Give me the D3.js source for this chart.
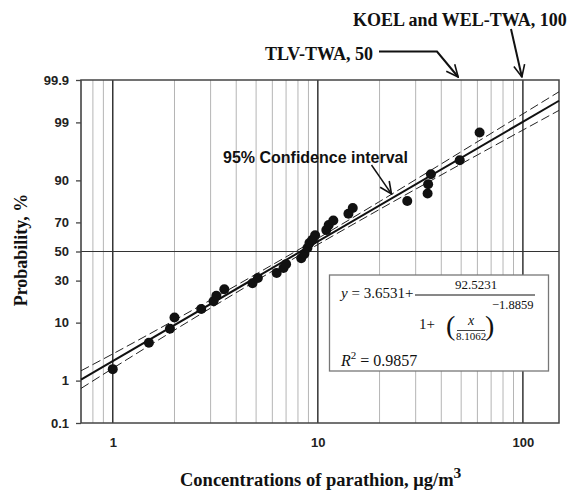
<!DOCTYPE html>
<html>
<head>
<meta charset="utf-8">
<script src="https://cdn.jsdelivr.net/npm/d3@7"></script>
<style>
  body { margin: 0; background: #fff; }
  .serif { font-family: "Liberation Serif", "Times New Roman", serif; }
  .sans { font-family: "Liberation Sans", Arial, sans-serif; }
</style>
</head>
<body>
<svg id="drawing-area"></svg>
<script>
// measured concentrations (ug/m3) and their plotting probabilities (%)
var conc = [1.0, 1.5, 1.9, 2.0, 2.7, 3.1, 3.2, 3.5, 4.8, 5.1,
            6.3, 6.8, 7.0, 8.3, 8.6, 8.9, 9.1, 9.4, 9.7, 11.0,
            11.3, 11.9, 14.1, 14.8, 27.3, 34.3, 34.5, 35.6, 49.2, 61.5];
var prob = [1.7, 5.0, 8.2, 11.7, 15.0, 18.5, 21.2, 24.8, 28.4, 31.7,
            35.0, 38.3, 41.0, 45.2, 48.3, 52.5, 56.0, 58.3, 61.5, 65.0,
            68.3, 71.2, 75.2, 78.3, 81.9, 85.2, 88.7, 91.8, 95.0, 98.4];

// fitted line (read at the plot edges)
var fitX = [0.7, 150];
var fitP = [1.05, 99.67];

// 95% confidence band
var bandX = [0.7, 1, 2, 5, 10, 20, 50, 150];
var bandUpper = [1.58, 3.25, 10.8, 34.2, 59.3, 81.6, 96.39, 99.80];
var bandLower = [0.68, 1.76, 7.84, 29.9, 55.0, 77.6, 94.27, 99.45];

var yTicks = [0.1, 1, 10, 30, 50, 70, 90, 99, 99.9];
var yTickLabels = ["0.1", "1", "10", "30", "50", "70", "90", "99", "99.9"];
var xTicks = [1, 10, 100];

var width = 581, height = 490;
var plotL = 81, plotR = 559, plotT = 80, plotB = 423;

// inverse normal cdf (Acklam)
function probit(p) {
    var a = [-3.969683028665376e+01, 2.209460984245205e+02, -2.759285104469687e+02, 1.383577518672690e+02, -3.066479806614716e+01, 2.506628277459239e+00];
    var b = [-5.447609879822406e+01, 1.615858368580409e+02, -1.556989798598866e+02, 6.680131188771972e+01, -1.328068155288572e+01];
    var c = [-7.784894002430293e-03, -3.223964580411365e-01, -2.400758277161838e+00, -2.549732539343734e+00, 4.374664141464968e+00, 2.938163982698783e+00];
    var d = [7.784695709041462e-03, 3.224671290700398e-01, 2.445134137142996e+00, 3.754408661907416e+00];
    var pl = 0.02425, q, r;
    if (p < pl) {
        q = Math.sqrt(-2 * Math.log(p));
        return (((((c[0]*q+c[1])*q+c[2])*q+c[3])*q+c[4])*q+c[5]) / ((((d[0]*q+d[1])*q+d[2])*q+d[3])*q+1);
    }
    if (p > 1 - pl) {
        q = Math.sqrt(-2 * Math.log(1 - p));
        return -(((((c[0]*q+c[1])*q+c[2])*q+c[3])*q+c[4])*q+c[5]) / ((((d[0]*q+d[1])*q+d[2])*q+d[3])*q+1);
    }
    q = p - 0.5; r = q * q;
    return (((((a[0]*r+a[1])*r+a[2])*r+a[3])*r+a[4])*r+a[5])*q / (((((b[0]*r+b[1])*r+b[2])*r+b[3])*r+b[4])*r+1);
}

var xScale = d3.scaleLog().domain([0.7, 150]).range([plotL, plotR]);
var zScale = d3.scaleLinear().domain([probit(0.001), probit(0.999)]).range([plotB, plotT]);
function yPos(p) { return zScale(probit(p / 100)); }

var svg = d3.select("#drawing-area").attr("width", width).attr("height", height);

var defs = svg.append("defs");
defs.append("marker")
    .attr("id", "vhead")
    .attr("viewBox", "0 0 14 14")
    .attr("refX", 13).attr("refY", 7)
    .attr("markerWidth", 14).attr("markerHeight", 14)
    .attr("markerUnits", "userSpaceOnUse")
    .attr("orient", "auto")
  .append("path")
    .attr("d", "M1,1.5 L13,7 L1,12.5")
    .attr("fill", "none").attr("stroke", "#111").attr("stroke-width", 1.6);

// vertical grid
var minor = [];
[0.1, 1, 10, 100].forEach(function(dec) {
    for (var k = 2; k <= 9; k++) {
        var v = k * dec;
        if (v > 0.7 && v < 150) minor.push(v);
    }
});
svg.selectAll(".minor").data(minor).enter().append("line")
    .attr("x1", function(d) { return xScale(d); }).attr("x2", function(d) { return xScale(d); })
    .attr("y1", plotT).attr("y2", plotB)
    .attr("stroke", "#b5b5b5").attr("stroke-width", 1);
svg.selectAll(".major").data(xTicks).enter().append("line")
    .attr("x1", function(d) { return xScale(d); }).attr("x2", function(d) { return xScale(d); })
    .attr("y1", plotT).attr("y2", plotB)
    .attr("stroke", "#333").attr("stroke-width", 1.5);
svg.append("line")
    .attr("x1", plotL).attr("x2", plotR)
    .attr("y1", yPos(50)).attr("y2", yPos(50))
    .attr("stroke", "#333").attr("stroke-width", 1);

// frame
svg.append("rect")
    .attr("x", plotL).attr("y", plotT).attr("width", plotR - plotL).attr("height", plotB - plotT)
    .attr("fill", "none").attr("stroke", "#444").attr("stroke-width", 1.5);

// axes
var yAxis = d3.axisLeft(zScale)
    .tickValues(yTicks.map(function(p) { return probit(p / 100); }))
    .tickFormat(function(d, i) { return yTickLabels[i]; })
    .tickSize(5).tickPadding(7);
var gy = svg.append("g").attr("transform", "translate(" + plotL + ",0)").call(yAxis);
gy.select(".domain").remove();
gy.selectAll("line").attr("stroke", "#444").attr("stroke-width", 1.3);
gy.selectAll("text").attr("class", "sans").attr("font-size", 13).attr("font-weight", "bold").attr("fill", "#222");

var xAxis = d3.axisBottom(xScale).tickValues(xTicks).tickFormat(d3.format("d")).tickSize(0).tickPadding(15);
var gx = svg.append("g").attr("transform", "translate(0," + plotB + ")").call(xAxis);
gx.select(".domain").remove();
gx.selectAll("text").attr("class", "sans").attr("font-size", 13).attr("font-weight", "bold").attr("fill", "#222");

// confidence band and fit
var line = d3.line()
    .x(function(d) { return xScale(d[0]); })
    .y(function(d) { return yPos(d[1]); })
    .curve(d3.curveMonotoneX);
[bandUpper, bandLower].forEach(function(arr) {
    svg.append("path")
        .attr("d", line(bandX.map(function(x, i) { return [x, arr[i]]; })))
        .attr("fill", "none").attr("stroke", "#222").attr("stroke-width", 1)
        .attr("stroke-dasharray", "9,4");
});
svg.append("path")
    .attr("d", line(fitX.map(function(x, i) { return [x, fitP[i]]; })))
    .attr("fill", "none").attr("stroke", "#111").attr("stroke-width", 2);

// points
svg.selectAll(".pt").data(conc).enter().append("circle")
    .attr("cx", function(d) { return xScale(d); })
    .attr("cy", function(d, i) { return yPos(prob[i]); })
    .attr("r", 5).attr("fill", "#111");

// equation box
svg.append("rect")
    .attr("x", 329.5).attr("y", 275).attr("width", 219).attr("height", 96)
    .attr("fill", "#fff").attr("stroke", "#777").attr("stroke-width", 1.3);
var eq = svg.append("g").attr("class", "serif").attr("fill", "#111");
var t1 = eq.append("text").attr("x", 341).attr("y", 298).attr("font-size", 15);
t1.append("tspan").attr("font-style", "italic").text("y");
t1.append("tspan").text(" = 3.6531+");
eq.append("line").attr("x1", 415).attr("x2", 535).attr("y1", 295).attr("y2", 295)
    .attr("stroke", "#111").attr("stroke-width", 1);
eq.append("text").attr("x", 476).attr("y", 289).attr("font-size", 13).attr("text-anchor", "middle").text("92.5231");
eq.append("text").attr("x", 419).attr("y", 329).attr("font-size", 15).text("1+");
eq.append("text").attr("x", 446).attr("y", 335).attr("font-size", 28).text("(");
eq.append("text").attr("x", 485).attr("y", 335).attr("font-size", 28).text(")");
eq.append("text").attr("x", 471).attr("y", 325).attr("font-size", 14).attr("font-style", "italic").attr("text-anchor", "middle").text("x");
eq.append("line").attr("x1", 457).attr("x2", 485).attr("y1", 330.5).attr("y2", 330.5)
    .attr("stroke", "#111").attr("stroke-width", 0.8);
eq.append("text").attr("x", 471).attr("y", 340).attr("font-size", 11).attr("text-anchor", "middle").text("8.1062");
eq.append("text").attr("x", 492).attr("y", 309).attr("font-size", 12.5).text("\u22121.8859");
var t2 = eq.append("text").attr("x", 341).attr("y", 366).attr("font-size", 16);
t2.append("tspan").attr("font-style", "italic").text("R");
t2.append("tspan").attr("font-size", 11).attr("dy", -7).text("2");
t2.append("tspan").attr("dy", 7).text(" = 0.9857");

// annotations
svg.append("text").attr("class", "sans").attr("x", 223).attr("y", 163)
    .attr("font-size", 16).attr("font-weight", "bold").attr("fill", "#111")
    .text("95% Confidence interval");
svg.append("line").attr("x1", 371.5).attr("y1", 165).attr("x2", 391.5).attr("y2", 194)
    .attr("stroke", "#111").attr("stroke-width", 1.4).attr("marker-end", "url(#vhead)");

svg.append("text").attr("class", "serif").attr("x", 265).attr("y", 60)
    .attr("font-size", 18).attr("font-weight", "bold").attr("fill", "#111")
    .text("TLV-TWA, 50");
svg.append("polyline")
    .attr("points", [[379, 51.5], [437, 51.5], [xScale(50) - 3, plotT - 3]].join(" "))
    .attr("fill", "none").attr("stroke", "#111").attr("stroke-width", 2)
    .attr("marker-end", "url(#vhead)");

svg.append("text").attr("class", "serif").attr("x", 353).attr("y", 26)
    .attr("font-size", 18).attr("font-weight", "bold").attr("fill", "#111")
    .text("KOEL and WEL-TWA, 100");
svg.append("line").attr("x1", 511).attr("y1", 29).attr("x2", xScale(100) - 1).attr("y2", plotT - 3)
    .attr("stroke", "#111").attr("stroke-width", 2).attr("marker-end", "url(#vhead)");

// axis titles
svg.append("text").attr("class", "serif")
    .attr("transform", "translate(27,250) rotate(-90)")
    .attr("text-anchor", "middle").attr("font-size", 18).attr("font-weight", "bold").attr("fill", "#111")
    .text("Probability, %");
var xt = svg.append("text").attr("class", "serif")
    .attr("x", 180).attr("y", 486)
    .attr("font-size", 18.5).attr("font-weight", "bold").attr("fill", "#111");
xt.append("tspan").text("Concentrations of parathion, \u03bcg/m");
xt.append("tspan").attr("font-size", 15.5).attr("dy", -8).text("3");
</script>
</body>
</html>
